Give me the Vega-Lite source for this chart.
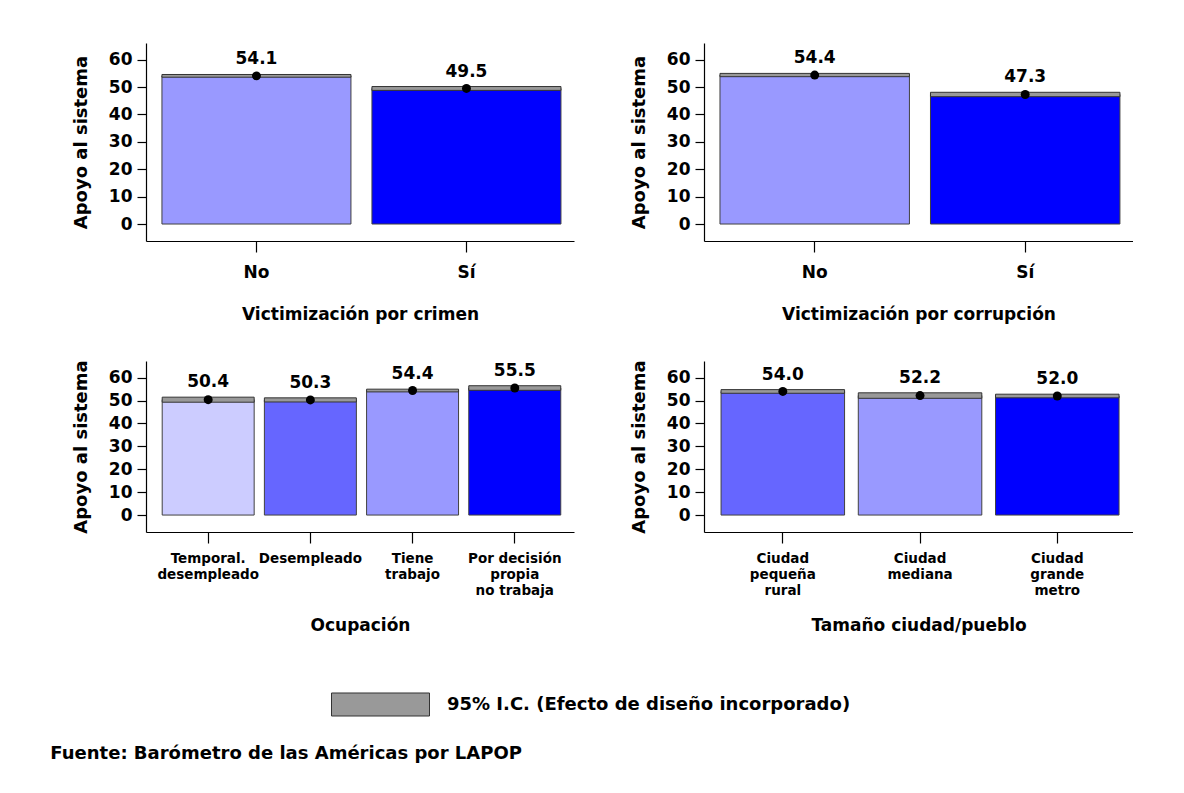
{
  "$schema": "https://vega.github.io/schema/vega-lite/v6.json",
  "background": "white",
  "padding": {"left": 50, "top": 43, "right": 0, "bottom": 0},
  "title": {"text": "Fuente: Barómetro de las Américas por LAPOP", "orient": "bottom", "anchor": "start", "font": "DejaVu Sans", "fontSize": 18, "fontWeight": "bold", "color": "black", "offset": 26, "dx": -22},
  "data": {"values": [
    {"panel": "crimen", "cat": "No", "mean": 54.1, "lo": 53.6, "hi": 54.6},
    {"panel": "crimen", "cat": "Sí", "mean": 49.5, "lo": 48.8, "hi": 50.2},
    {"panel": "corrupcion", "cat": "No", "mean": 54.4, "lo": 53.8, "hi": 55.0},
    {"panel": "corrupcion", "cat": "Sí", "mean": 47.3, "lo": 46.5, "hi": 48.1},
    {"panel": "ocupacion", "cat": "Temporal.|desempleado", "mean": 50.4, "lo": 49.3, "hi": 51.5},
    {"panel": "ocupacion", "cat": "Desempleado", "mean": 50.3, "lo": 49.4, "hi": 51.2},
    {"panel": "ocupacion", "cat": "Tiene|trabajo", "mean": 54.4, "lo": 53.8, "hi": 55.0},
    {"panel": "ocupacion", "cat": "Por decisión|propia|no trabaja", "mean": 55.5, "lo": 54.5, "hi": 56.5},
    {"panel": "tamano", "cat": "Ciudad|pequeña|rural", "mean": 54.0, "lo": 53.2, "hi": 54.8},
    {"panel": "tamano", "cat": "Ciudad|mediana", "mean": 52.2, "lo": 51.0, "hi": 53.4},
    {"panel": "tamano", "cat": "Ciudad|grande|metro", "mean": 52.0, "lo": 51.2, "hi": 52.8}
  ]},
  "vconcat": [
    {"hconcat": [
      {"width": 428, "height": 198,
       "transform": [{"filter": "datum.panel == 'crimen'"}],
       "encoding": {"x": {"field": "cat", "type": "nominal", "sort": null, "scale": {"paddingInner": 0.1, "paddingOuter": 0.069, "align": 0.55}, "axis": {"title": "Victimización por crimen", "labelExpr": "split(datum.value, '|')"}}},
       "layer": [
         {"mark": {"type": "bar", "stroke": "#404040", "strokeWidth": 1},
          "encoding": {"y": {"field": "mean", "type": "quantitative", "title": "Apoyo al sistema", "axis": {"values": [0, 10, 20, 30, 40, 50, 60], "labelOverlap": false}, "scale": {"domain": [-6.2, 66.1], "nice": false, "zero": false}}, "y2": {"datum": 0},
            "color": {"field": "cat", "type": "nominal", "legend": null, "scale": {"domain": ["No","Sí","Temporal.|desempleado","Desempleado","Tiene|trabajo","Por decisión|propia|no trabaja","Ciudad|pequeña|rural","Ciudad|mediana","Ciudad|grande|metro"], "range": ["#9999FF","#0000FF","#CCCCFF","#6666FF","#9999FF","#0000FF","#6666FF","#9999FF","#0000FF"]}}}},
         {"mark": {"type": "bar", "stroke": "#333333", "strokeWidth": 1},
          "encoding": {"y": {"field": "lo", "type": "quantitative", "title": "Apoyo al sistema", "axis": {"values": [0, 10, 20, 30, 40, 50, 60], "labelOverlap": false}}, "y2": {"field": "hi"},
            "fill": {"datum": "95% I.C. (Efecto de diseño incorporado)", "scale": {"range": ["#999999"]}, "legend": {"orient": "none", "legendX": 185, "legendY": 612, "title": null, "padding": 0, "symbolType": "M-1,-0.235H1V0.235H-1Z", "symbolSize": 9604, "symbolStrokeColor": "#333333", "symbolStrokeWidth": 1, "symbolOpacity": 1, "labelOffset": 17, "labelFont": "DejaVu Sans", "labelFontSize": 18, "labelFontWeight": "bold", "labelColor": "black", "labelLimit": 600}}}},
         {"mark": {"type": "point", "filled": true, "color": "black", "opacity": 1, "size": 80},
          "encoding": {"y": {"field": "mean", "type": "quantitative", "title": "Apoyo al sistema", "axis": {"values": [0, 10, 20, 30, 40, 50, 60], "labelOverlap": false}}}},
         {"mark": {"type": "text", "dy": -10, "baseline": "alphabetic", "font": "DejaVu Sans", "fontSize": 17, "fontWeight": "bold", "color": "black"},
          "encoding": {"y": {"field": "hi", "type": "quantitative", "title": "Apoyo al sistema", "axis": {"values": [0, 10, 20, 30, 40, 50, 60], "labelOverlap": false}}, "text": {"field": "mean", "type": "quantitative", "format": ".1f"}}}
       ]},
      {"width": 429, "height": 198,
       "transform": [{"filter": "datum.panel == 'corrupcion'"}],
       "encoding": {"x": {"field": "cat", "type": "nominal", "sort": null, "scale": {"paddingInner": 0.1, "paddingOuter": 0.069, "align": 0.55}, "axis": {"title": "Victimización por corrupción", "labelExpr": "split(datum.value, '|')"}}},
       "layer": [
         {"mark": {"type": "bar", "stroke": "#404040", "strokeWidth": 1},
          "encoding": {"y": {"field": "mean", "type": "quantitative", "title": "Apoyo al sistema", "axis": {"values": [0, 10, 20, 30, 40, 50, 60], "labelOverlap": false}, "scale": {"domain": [-6.2, 66.1], "nice": false, "zero": false}}, "y2": {"datum": 0},
            "color": {"field": "cat", "type": "nominal", "legend": null, "scale": {"domain": ["No","Sí","Temporal.|desempleado","Desempleado","Tiene|trabajo","Por decisión|propia|no trabaja","Ciudad|pequeña|rural","Ciudad|mediana","Ciudad|grande|metro"], "range": ["#9999FF","#0000FF","#CCCCFF","#6666FF","#9999FF","#0000FF","#6666FF","#9999FF","#0000FF"]}}}},
         {"mark": {"type": "bar", "stroke": "#333333", "strokeWidth": 1},
          "encoding": {"y": {"field": "lo", "type": "quantitative", "title": "Apoyo al sistema", "axis": {"values": [0, 10, 20, 30, 40, 50, 60], "labelOverlap": false}}, "y2": {"field": "hi"},
            "fill": {"datum": "95% I.C. (Efecto de diseño incorporado)", "scale": {"range": ["#999999"]}, "legend": {"orient": "none", "legendX": 185, "legendY": 612, "title": null, "padding": 0, "symbolType": "M-1,-0.235H1V0.235H-1Z", "symbolSize": 9604, "symbolStrokeColor": "#333333", "symbolStrokeWidth": 1, "symbolOpacity": 1, "labelOffset": 17, "labelFont": "DejaVu Sans", "labelFontSize": 18, "labelFontWeight": "bold", "labelColor": "black", "labelLimit": 600}}}},
         {"mark": {"type": "point", "filled": true, "color": "black", "opacity": 1, "size": 80},
          "encoding": {"y": {"field": "mean", "type": "quantitative", "title": "Apoyo al sistema", "axis": {"values": [0, 10, 20, 30, 40, 50, 60], "labelOverlap": false}}}},
         {"mark": {"type": "text", "dy": -10, "baseline": "alphabetic", "font": "DejaVu Sans", "fontSize": 17, "fontWeight": "bold", "color": "black"},
          "encoding": {"y": {"field": "hi", "type": "quantitative", "title": "Apoyo al sistema", "axis": {"values": [0, 10, 20, 30, 40, 50, 60], "labelOverlap": false}}, "text": {"field": "mean", "type": "quantitative", "format": ".1f"}}}
       ]}
    ]},
    {"hconcat": [
      {"width": 428, "height": 171,
       "transform": [{"filter": "datum.panel == 'ocupacion'"}],
       "encoding": {"x": {"field": "cat", "type": "nominal", "sort": null, "scale": {"paddingInner": 0.1, "paddingOuter": 0.144, "align": 0.55}, "axis": {"title": "Ocupación", "labelExpr": "split(datum.value, '|')", "labelFontSize": 13.5, "labelLineHeight": 16, "labelPadding": 8, "titlePadding": 21}}},
       "layer": [
         {"mark": {"type": "bar", "stroke": "#404040", "strokeWidth": 1},
          "encoding": {"y": {"field": "mean", "type": "quantitative", "title": "Apoyo al sistema", "axis": {"values": [0, 10, 20, 30, 40, 50, 60], "labelOverlap": false}, "scale": {"domain": [-7.4, 67.3], "nice": false, "zero": false}}, "y2": {"datum": 0},
            "color": {"field": "cat", "type": "nominal", "legend": null, "scale": {"domain": ["No","Sí","Temporal.|desempleado","Desempleado","Tiene|trabajo","Por decisión|propia|no trabaja","Ciudad|pequeña|rural","Ciudad|mediana","Ciudad|grande|metro"], "range": ["#9999FF","#0000FF","#CCCCFF","#6666FF","#9999FF","#0000FF","#6666FF","#9999FF","#0000FF"]}}}},
         {"mark": {"type": "bar", "stroke": "#333333", "strokeWidth": 1},
          "encoding": {"y": {"field": "lo", "type": "quantitative", "title": "Apoyo al sistema", "axis": {"values": [0, 10, 20, 30, 40, 50, 60], "labelOverlap": false}}, "y2": {"field": "hi"},
            "fill": {"datum": "95% I.C. (Efecto de diseño incorporado)", "scale": {"range": ["#999999"]}, "legend": {"orient": "none", "legendX": 185, "legendY": 612, "title": null, "padding": 0, "symbolType": "M-1,-0.235H1V0.235H-1Z", "symbolSize": 9604, "symbolStrokeColor": "#333333", "symbolStrokeWidth": 1, "symbolOpacity": 1, "labelOffset": 17, "labelFont": "DejaVu Sans", "labelFontSize": 18, "labelFontWeight": "bold", "labelColor": "black", "labelLimit": 600}}}},
         {"mark": {"type": "point", "filled": true, "color": "black", "opacity": 1, "size": 80},
          "encoding": {"y": {"field": "mean", "type": "quantitative", "title": "Apoyo al sistema", "axis": {"values": [0, 10, 20, 30, 40, 50, 60], "labelOverlap": false}}}},
         {"mark": {"type": "text", "dy": -10, "baseline": "alphabetic", "font": "DejaVu Sans", "fontSize": 17, "fontWeight": "bold", "color": "black"},
          "encoding": {"y": {"field": "hi", "type": "quantitative", "title": "Apoyo al sistema", "axis": {"values": [0, 10, 20, 30, 40, 50, 60], "labelOverlap": false}}, "text": {"field": "mean", "type": "quantitative", "format": ".1f"}}}
       ]},
      {"width": 429, "height": 171,
       "transform": [{"filter": "datum.panel == 'tamano'"}],
       "encoding": {"x": {"field": "cat", "type": "nominal", "sort": null, "scale": {"paddingInner": 0.1, "paddingOuter": 0.113, "align": 0.55}, "axis": {"title": "Tamaño ciudad/pueblo", "labelExpr": "split(datum.value, '|')", "labelFontSize": 13.5, "labelLineHeight": 16, "labelPadding": 8, "titlePadding": 21}}},
       "layer": [
         {"mark": {"type": "bar", "stroke": "#404040", "strokeWidth": 1},
          "encoding": {"y": {"field": "mean", "type": "quantitative", "title": "Apoyo al sistema", "axis": {"values": [0, 10, 20, 30, 40, 50, 60], "labelOverlap": false}, "scale": {"domain": [-7.4, 67.3], "nice": false, "zero": false}}, "y2": {"datum": 0},
            "color": {"field": "cat", "type": "nominal", "legend": null, "scale": {"domain": ["No","Sí","Temporal.|desempleado","Desempleado","Tiene|trabajo","Por decisión|propia|no trabaja","Ciudad|pequeña|rural","Ciudad|mediana","Ciudad|grande|metro"], "range": ["#9999FF","#0000FF","#CCCCFF","#6666FF","#9999FF","#0000FF","#6666FF","#9999FF","#0000FF"]}}}},
         {"mark": {"type": "bar", "stroke": "#333333", "strokeWidth": 1},
          "encoding": {"y": {"field": "lo", "type": "quantitative", "title": "Apoyo al sistema", "axis": {"values": [0, 10, 20, 30, 40, 50, 60], "labelOverlap": false}}, "y2": {"field": "hi"},
            "fill": {"datum": "95% I.C. (Efecto de diseño incorporado)", "scale": {"range": ["#999999"]}, "legend": {"orient": "none", "legendX": 185, "legendY": 612, "title": null, "padding": 0, "symbolType": "M-1,-0.235H1V0.235H-1Z", "symbolSize": 9604, "symbolStrokeColor": "#333333", "symbolStrokeWidth": 1, "symbolOpacity": 1, "labelOffset": 17, "labelFont": "DejaVu Sans", "labelFontSize": 18, "labelFontWeight": "bold", "labelColor": "black", "labelLimit": 600}}}},
         {"mark": {"type": "point", "filled": true, "color": "black", "opacity": 1, "size": 80},
          "encoding": {"y": {"field": "mean", "type": "quantitative", "title": "Apoyo al sistema", "axis": {"values": [0, 10, 20, 30, 40, 50, 60], "labelOverlap": false}}}},
         {"mark": {"type": "text", "dy": -10, "baseline": "alphabetic", "font": "DejaVu Sans", "fontSize": 17, "fontWeight": "bold", "color": "black"},
          "encoding": {"y": {"field": "hi", "type": "quantitative", "title": "Apoyo al sistema", "axis": {"values": [0, 10, 20, 30, 40, 50, 60], "labelOverlap": false}}, "text": {"field": "mean", "type": "quantitative", "format": ".1f"}}}
       ]}
    ]}
  ],
  "spacing": 37,
  "config": {
    "view": {"stroke": null},
    "concat": {"spacing": 56},
    "axis": {"domainColor": "black", "tickColor": "black", "domainWidth": 1.2, "tickWidth": 1.2, "labelColor": "black", "titleColor": "black", "labelFont": "DejaVu Sans", "titleFont": "DejaVu Sans", "labelFontWeight": "bold", "titleFontWeight": "bold", "grid": false, "labelFontSize": 17, "titleFontSize": 17},
    "axisY": {"labelPadding": 5, "tickSize": 9, "titlePadding": 18, "titleFontSize": 18},
    "axisX": {"labelAngle": 0, "labelPadding": 12, "tickSize": 11, "titlePadding": 26}
  }
}
